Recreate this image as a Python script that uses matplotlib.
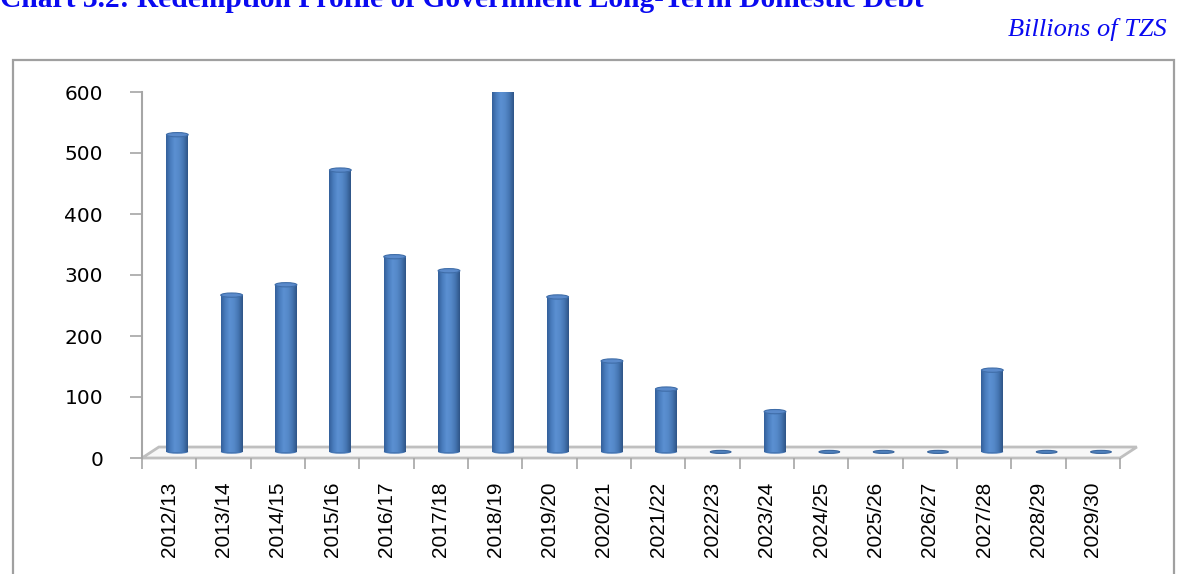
import matplotlib
matplotlib.use("Agg")
import matplotlib.pyplot as plt
import numpy as np
from matplotlib.colors import LinearSegmentedColormap
from matplotlib.patches import Ellipse, Polygon, Rectangle

years = ["2012/13", "2013/14", "2014/15", "2015/16", "2016/17", "2017/18",
         "2018/19", "2019/20", "2020/21", "2021/22", "2022/23", "2023/24",
         "2024/25", "2025/26", "2026/27", "2027/28", "2028/29", "2029/30"]
redemption = [520, 257, 274, 462, 320, 297, 597, 254, 149, 103, 0, 66,
              0, 0, 0, 134, 0, 0]
y_ticks = [0, 100, 200, 300, 400, 500, 600]

title = "Chart 3.2: Redemption Profile of Government Long-Term Domestic Debt"
unit_note = "Billions of TZS"

W, H = 1177, 574
fig = plt.figure(figsize=(W / 100, H / 100), dpi=100)

# frame around the chart
fig.patches.append(Rectangle((13 / W, -0.05), (1174 - 13) / W, 1.05 - 60 / H,
                             transform=fig.transFigure, fill=False,
                             edgecolor="#A0A0A0", lw=1.6))

ax = fig.add_axes([142 / W, (H - 458) / H, (1120 - 142) / W, (458 - 92) / H])

# fake 3d floor: shifted right and up
dx, dy = 0.31, 18
base = 10
bar_w = 0.4
shift = 0.15

floor = Polygon([(0, 0), (len(years), 0), (len(years) + dx, dy), (dx, dy)],
                closed=True, facecolor="#F7F7F7", edgecolor="#BFBFBF",
                lw=2, clip_on=False, zorder=1)
ax.add_patch(floor)

cyl = LinearSegmentedColormap.from_list(
    "cyl", ["#34609A", "#4A7DBE", "#5B90D2", "#5589C9", "#4575B2", "#2F5587"])
grad = np.linspace(0, 1, 64).reshape(1, -1)

for i, v in enumerate(redemption):
    cx = i + 0.5 + shift
    x0 = cx - bar_w / 2
    if v > 0:
        ax.imshow(grad, extent=[x0, x0 + bar_w, base, base + v], aspect="auto",
                  cmap=cyl, zorder=3, interpolation="bilinear")
        ax.add_patch(Ellipse((cx, base), bar_w, 6, facecolor="#4677B5",
                             edgecolor="none", zorder=2.9))
        ax.add_patch(Ellipse((cx, base + v), bar_w, 7, facecolor="#5A8ACB",
                             edgecolor="#3F6DA8", lw=0.8, zorder=4))
    else:
        ax.add_patch(Ellipse((cx, base), bar_w * 0.95, 5, facecolor="#4F81BD",
                             edgecolor="#3A669E", lw=0.8, zorder=4))

ax.set_xlim(0, len(years))
ax.set_ylim(0, 600)

for s in ["top", "right", "bottom"]:
    ax.spines[s].set_visible(False)
ax.spines["left"].set_color("#A6A6A6")
ax.spines["left"].set_linewidth(1.5)

ax.set_yticks(y_ticks)
ax.set_yticklabels([str(t) for t in y_ticks], fontsize=14.5,
                   fontfamily="DejaVu Sans")
ax.tick_params(axis="y", direction="out", length=9, width=1.2,
               color="#A6A6A6", pad=19)

ax.set_xticks(np.arange(0, len(years) + 1))
ax.set_xticklabels([])
ax.tick_params(axis="x", which="major", direction="out", length=8, width=1.2,
               color="#A6A6A6")
ax.set_xticks(np.arange(len(years)) + 0.5, minor=True)
ax.set_xticklabels(years, minor=True, rotation=90, fontsize=15,
                   fontfamily="Liberation Sans")
ax.tick_params(axis="x", which="minor", length=0, pad=17)

# title, partly cut off at the top like the source
fig.canvas.draw()
r = fig.canvas.get_renderer()
t = fig.text(0, 1 - 7 / H, title, fontsize=20, fontweight="bold",
             fontfamily="Liberation Serif", color="#0A0AF0", va="baseline",
             ha="left")
bb = t.get_window_extent(r)
t.set_fontsize(20 * 922 / bb.width)

u = fig.text(1167 / W, 1 - 36 / H, unit_note, fontsize=19, style="italic",
             fontfamily="Liberation Serif", color="#0A0AF0", va="baseline",
             ha="right")

fig.savefig("out.png", dpi=100)
